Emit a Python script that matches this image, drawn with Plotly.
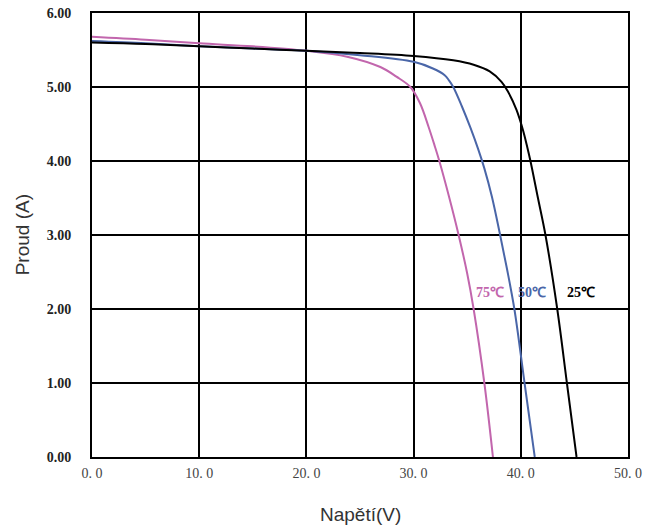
import plotly.graph_objects as go

# 25 °C curve
v25 = [0, 5, 10, 15, 20, 25, 30, 33.7, 35.6, 37.1, 38.2, 38.8, 39.6, 40.2, 40.6, 40.9, 41.6, 42.3, 43.4, 44.3, 45.2]
i25 = [5.60, 5.58, 5.55, 5.52, 5.49, 5.46, 5.42, 5.36, 5.30, 5.21, 5.07, 4.94, 4.69, 4.42, 4.19, 4.00, 3.50, 3.00, 2.00, 1.00, 0.00]
# 50 °C curve
v50 = [0, 5, 10, 15, 20, 25, 30, 31.8, 32.9, 33.3, 33.7, 34.5, 35.3, 36.0, 36.6, 37.3, 38.0, 38.7, 39.4, 40.35, 41.3]
i50 = [5.62, 5.59, 5.55, 5.52, 5.49, 5.43, 5.34, 5.25, 5.16, 5.09, 5.00, 4.74, 4.45, 4.17, 3.90, 3.52, 3.05, 2.55, 2.00, 1.00, 0.00]
# 75 °C curve
v75 = [0, 5, 10, 15, 20, 23.8, 26.9, 28.4, 29.7, 30.6, 31.4, 32.0, 32.4, 33.3, 34.2, 35.0, 35.6, 36.6, 37.4]
i75 = [5.68, 5.64, 5.59, 5.55, 5.49, 5.41, 5.27, 5.14, 5.00, 4.78, 4.46, 4.19, 4.00, 3.52, 3.00, 2.48, 2.00, 1.00, 0.00]

x_ticks = [0, 10, 20, 30, 40, 50]
x_tick_text = ["0. 0", "10. 0", "20. 0", "30. 0", "40. 0", "50. 0"]
y_ticks = [0, 1, 2, 3, 4, 5, 6]
y_tick_text = ["0.00", "1.00", "2.00", "3.00", "4.00", "5.00", "6.00"]

labels = ["75℃", "50℃", "25℃"]
label_x = [37.1, 41.0, 45.6]
label_y = [2.22, 2.22, 2.22]
colors = ["#c266ad", "#4a66a8", "#000000"]

fig = go.Figure()
for v, i, c in [(v75, i75, colors[0]), (v50, i50, colors[1]), (v25, i25, colors[2])]:
    fig.add_trace(go.Scatter(x=v, y=i, mode="lines",
                             line=dict(color=c, width=2, shape="spline", smoothing=1.0),
                             showlegend=False, hoverinfo="skip"))

for t, x, y, c in zip(labels, label_x, label_y, colors):
    fig.add_annotation(x=x, y=y, text="<b>%s</b>" % t, showarrow=False,
                       font=dict(family="Liberation Serif", size=14, color=c))

fig.add_annotation(xref="paper", yref="paper", x=0.5, y=-0.13, yanchor="middle",
                   text="Napětí(V)", showarrow=False,
                   font=dict(family="Liberation Sans", size=19, color="#333333"))
fig.add_annotation(xref="paper", yref="paper", x=-0.13, y=0.5, xanchor="center",
                   text="Proud (A)", textangle=-90, showarrow=False,
                   font=dict(family="Liberation Sans", size=19, color="#333333"))

fig.update_layout(
    width=646, height=531,
    margin=dict(l=92, r=18, t=13, b=74),
    paper_bgcolor="white", plot_bgcolor="white",
    xaxis=dict(range=[0, 50], tickvals=x_ticks, ticktext=x_tick_text, automargin=False,
               showgrid=True, gridcolor="black", gridwidth=2,
               showline=True, linecolor="black", linewidth=2, mirror=True,
               zeroline=False, ticks="", ticklen=0, ticklabelstandoff=2,
               tickfont=dict(family="Liberation Serif", size=14, color="#444444")),
    yaxis=dict(range=[0, 6], tickvals=y_ticks, ticktext=y_tick_text, automargin=False,
               showgrid=True, gridcolor="black", gridwidth=2,
               showline=True, linecolor="black", linewidth=2, mirror=True,
               zeroline=False, ticks="", ticklen=0, ticklabelstandoff=16,
               tickfont=dict(family="Liberation Serif", size=14, color="#222222", weight="bold")),
)

fig.write_html("out.html", config={"displayModeBar": False},
               post_script="document.body.style.margin='0';document.body.style.overflow='hidden';")
